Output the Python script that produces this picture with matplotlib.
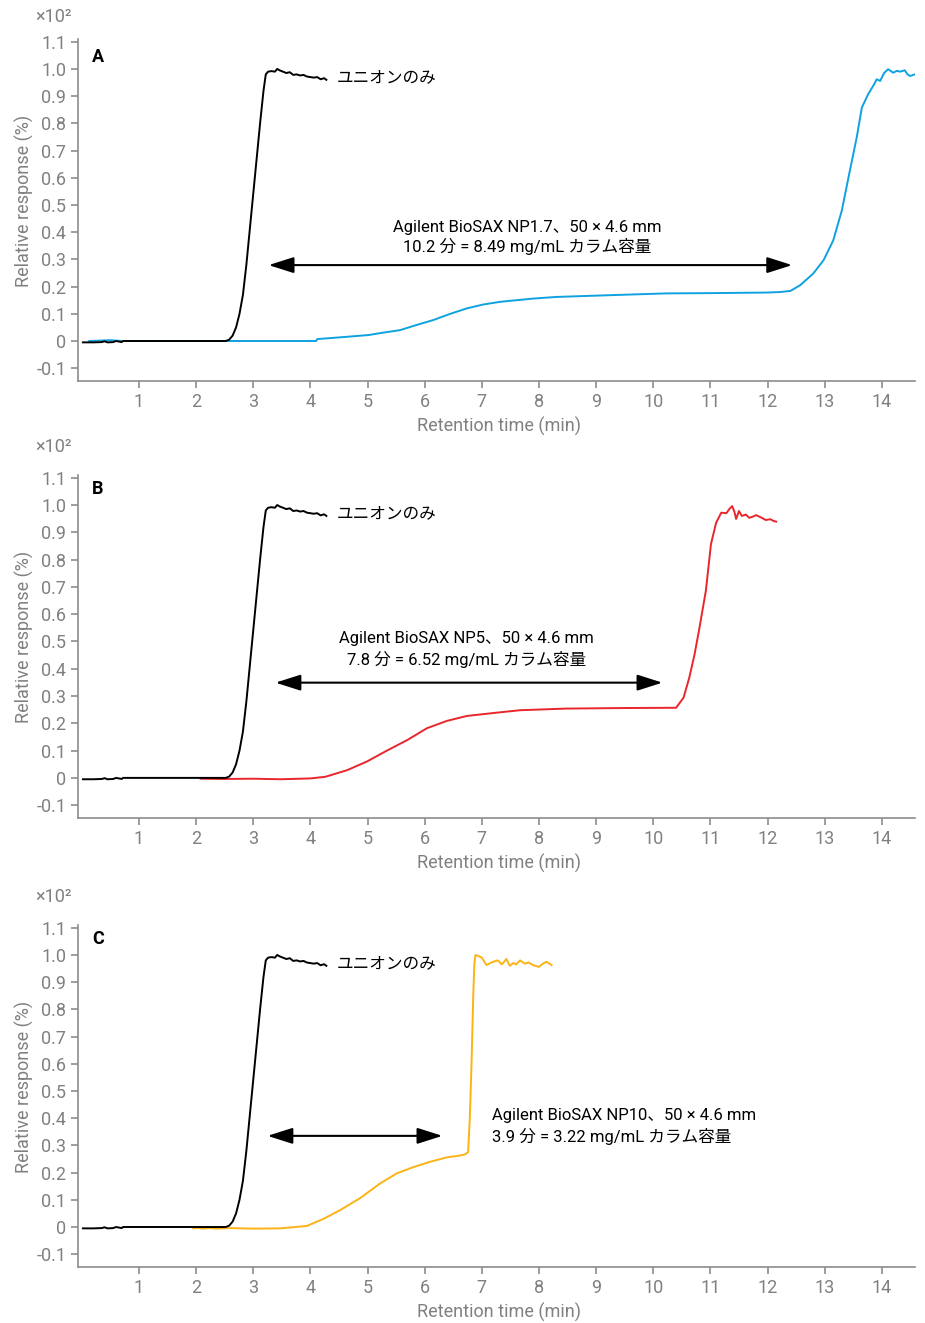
import matplotlib.pyplot as plt

plt.rcParams['font.family'] = ['Roboto', 'Noto Sans CJK JP', 'DejaVu Sans']

# union only trace (same in all three panels)
black_t = [0.02, 0.2, 0.35, 0.4, 0.45, 0.55, 0.6, 0.7, 0.72, 1.5, 2.3, 2.52, 2.58, 2.64, 2.7, 2.76,
           2.82, 2.88, 2.94, 3.0, 3.06, 3.12, 3.18, 3.22, 3.26, 3.32, 3.38, 3.42, 3.46, 3.52, 3.58,
           3.64, 3.7, 3.76, 3.82, 3.88, 3.94, 4.0, 4.06, 4.12, 4.18, 4.24, 4.28]
black_y = [-0.005, -0.005, -0.004, -0.001, -0.005, -0.004, 0.0, -0.004, 0.0, 0.0, 0.0, 0.0, 0.005,
           0.02, 0.05, 0.1, 0.17, 0.28, 0.41, 0.54, 0.67, 0.8, 0.92, 0.98, 0.99, 0.992, 0.99, 1.0,
           0.995, 0.99, 0.985, 0.988, 0.978, 0.98, 0.976, 0.978, 0.972, 0.97, 0.968, 0.97, 0.962,
           0.966, 0.96]

# A: NP1.7
blue_t = [0.13, 0.5, 0.7, 1.5, 3.0, 4.1, 4.12, 4.67, 5.02, 5.25, 5.57, 5.86, 6.15, 6.45, 6.74,
          7.02, 7.32, 7.9, 8.31, 9.18, 10.23, 11.0, 11.97, 12.22, 12.4, 12.57, 12.8, 12.98, 13.15,
          13.3, 13.44, 13.56, 13.65, 13.76, 13.85, 13.91, 13.97, 14.04, 14.11, 14.2, 14.26, 14.32,
          14.4, 14.45, 14.49, 14.58]
blue_y = [0.0, 0.003, 0.0, 0.0, 0.0, 0.0, 0.007, 0.016, 0.022, 0.03, 0.04, 0.059, 0.077, 0.10,
          0.12, 0.134, 0.144, 0.156, 0.162, 0.168, 0.175, 0.176, 0.178, 0.18, 0.184, 0.205, 0.248,
          0.297, 0.37, 0.48, 0.626, 0.748, 0.858, 0.907, 0.938, 0.962, 0.956, 0.985, 0.999, 0.986,
          0.993, 0.99, 0.995, 0.98, 0.974, 0.98]

# B: NP5
red_t = [2.08, 2.5, 3.0, 3.48, 4.0, 4.26, 4.64, 4.99, 5.34, 5.69, 6.04, 6.39, 6.74, 7.26, 7.67,
         8.48, 9.5, 10.4, 10.53, 10.63, 10.72, 10.8, 10.92, 11.01, 11.1, 11.19, 11.28, 11.33, 11.38,
         11.42, 11.45, 11.5, 11.55, 11.62, 11.68, 11.75, 11.8, 11.88, 11.97, 12.05, 12.1, 12.15]
red_y = [-0.003, -0.004, -0.003, -0.005, -0.002, 0.004, 0.028, 0.06, 0.10, 0.138, 0.182, 0.209,
         0.227, 0.239, 0.248, 0.254, 0.256, 0.257, 0.294, 0.367, 0.45, 0.54, 0.685, 0.857, 0.935,
         0.972, 0.97, 0.985, 0.996, 0.975, 0.949, 0.978, 0.96, 0.965, 0.953, 0.958, 0.963, 0.955,
         0.945, 0.948, 0.942, 0.939]

# C: NP10
orange_t = [1.95, 2.05, 2.1, 2.25, 2.35, 2.6, 3.0, 3.48, 3.94, 4.23, 4.52, 4.87, 5.22, 5.51, 5.8,
            6.1, 6.39, 6.6, 6.71, 6.76, 6.79, 6.82, 6.85, 6.87, 6.89, 6.95, 7.0, 7.08, 7.15, 7.2,
            7.28, 7.35, 7.43, 7.49, 7.55, 7.6, 7.67, 7.75, 7.82, 7.9, 8.0, 8.07, 8.13, 8.22]
orange_y = [-0.005, -0.003, -0.006, -0.004, -0.006, -0.004, -0.006, -0.005, 0.004, 0.03, 0.062,
            0.106, 0.16, 0.197, 0.22, 0.24, 0.256, 0.262, 0.267, 0.275, 0.4, 0.6, 0.85, 0.97, 1.0,
            0.995, 0.99, 0.963, 0.97, 0.975, 0.98, 0.965, 0.985, 0.96, 0.97, 0.965, 0.98, 0.968,
            0.972, 0.962, 0.956, 0.968, 0.975, 0.963]

panel_names = ['A', 'B', 'C']
series_t = [blue_t, red_t, orange_t]
series_y = [blue_y, red_y, orange_y]
series_colors = ['#0ea2e0', '#e8262b', '#fbb316']
label_line1 = ['Agilent BioSAX NP1.7、50 × 4.6 mm',
               'Agilent BioSAX NP5、50 × 4.6 mm',
               'Agilent BioSAX NP10、50 × 4.6 mm']
label_line2 = ['10.2 分 = 8.49 mg/mL カラム容量',
               '7.8 分 = 6.52 mg/mL カラム容量',
               '3.9 分 = 3.22 mg/mL カラム容量']

# layout in pixels (top, bottom of each axes)
ax_px = [(39, 381), (475, 818), (925, 1267)]
text_pos = [(7.8, 0.419, 0.349, 'center'), (6.73, 0.511, 0.434, 'center'),
            (7.17, 0.408, 0.331, 'left')]
arrow_pos = [(3.27, 12.43, 0.279), (3.39, 10.16, 0.349), (3.25, 6.31, 0.335)]
letter_y = [1.044, 1.06, 1.06]
exp_y = [1.191, 1.213, 1.213]

W, H = 925, 1323
fig = plt.figure(figsize=(W / 100, H / 100), dpi=100)
gray = '#808080'

for i in range(3):
    top, bot = ax_px[i]
    ax = fig.add_axes([78 / W, 1 - bot / H, (915 - 78) / W, (bot - top) / H])
    ax.plot(black_t, black_y, color='black', lw=1.4, zorder=3)
    ax.plot(series_t[i], series_y[i], color=series_colors[i], lw=1.4, zorder=2)

    ax.set_xlim(-0.066, 14.58)
    ax.set_ylim(-0.147, 1.11)
    ax.set_xticks(range(1, 15))
    yt = [-0.1, 0, 0.1, 0.2, 0.3, 0.4, 0.5, 0.6, 0.7, 0.8, 0.9, 1.0, 1.1]
    ax.set_yticks(yt)
    ax.set_yticklabels(['-0.1', '0', '0.1', '0.2', '0.3', '0.4', '0.5', '0.6', '0.7', '0.8',
                        '0.9', '1.0', '1.1'])
    for s in ['top', 'right']:
        ax.spines[s].set_visible(False)
    for s in ['left', 'bottom']:
        ax.spines[s].set_color('#8c8c8c')
        ax.spines[s].set_linewidth(1.2)
    ax.tick_params(colors='#8c8c8c', labelcolor=gray, labelsize=13, length=5, width=1.2)

    ax.set_xlabel('Retention time (min)', fontsize=13, color=gray)
    ax.xaxis.set_label_coords(0.503, -0.105)
    ax.set_ylabel('Relative response (%)', fontsize=13, color=gray)
    ax.yaxis.set_label_coords(-0.052, 0.527)

    ax.text(0.28, letter_y[i], panel_names[i], fontsize=13, fontweight='bold',
            ha='center', va='center')
    ax.text(-0.177, exp_y[i], '×10²', fontsize=13, color=gray, ha='right', va='center',
            clip_on=False)
    ax.text(4.46, 0.969, 'ユニオンのみ', fontsize=12, ha='left', va='center')

    tx, ty1, ty2, ha = text_pos[i]
    ax.text(tx, ty1, label_line1[i], fontsize=12, ha=ha, va='center')
    ax.text(tx, ty2, label_line2[i], fontsize=12, ha=ha, va='center')

    x0, x1, ay = arrow_pos[i]
    ax.annotate('', xy=(x1, ay), xytext=(x0, ay),
                arrowprops=dict(arrowstyle='<|-|>,head_length=1.1,head_width=0.35',
                                mutation_scale=14, color='black', lw=1.5,
                                shrinkA=0, shrinkB=0))

fig.savefig('out.png', dpi=100)
